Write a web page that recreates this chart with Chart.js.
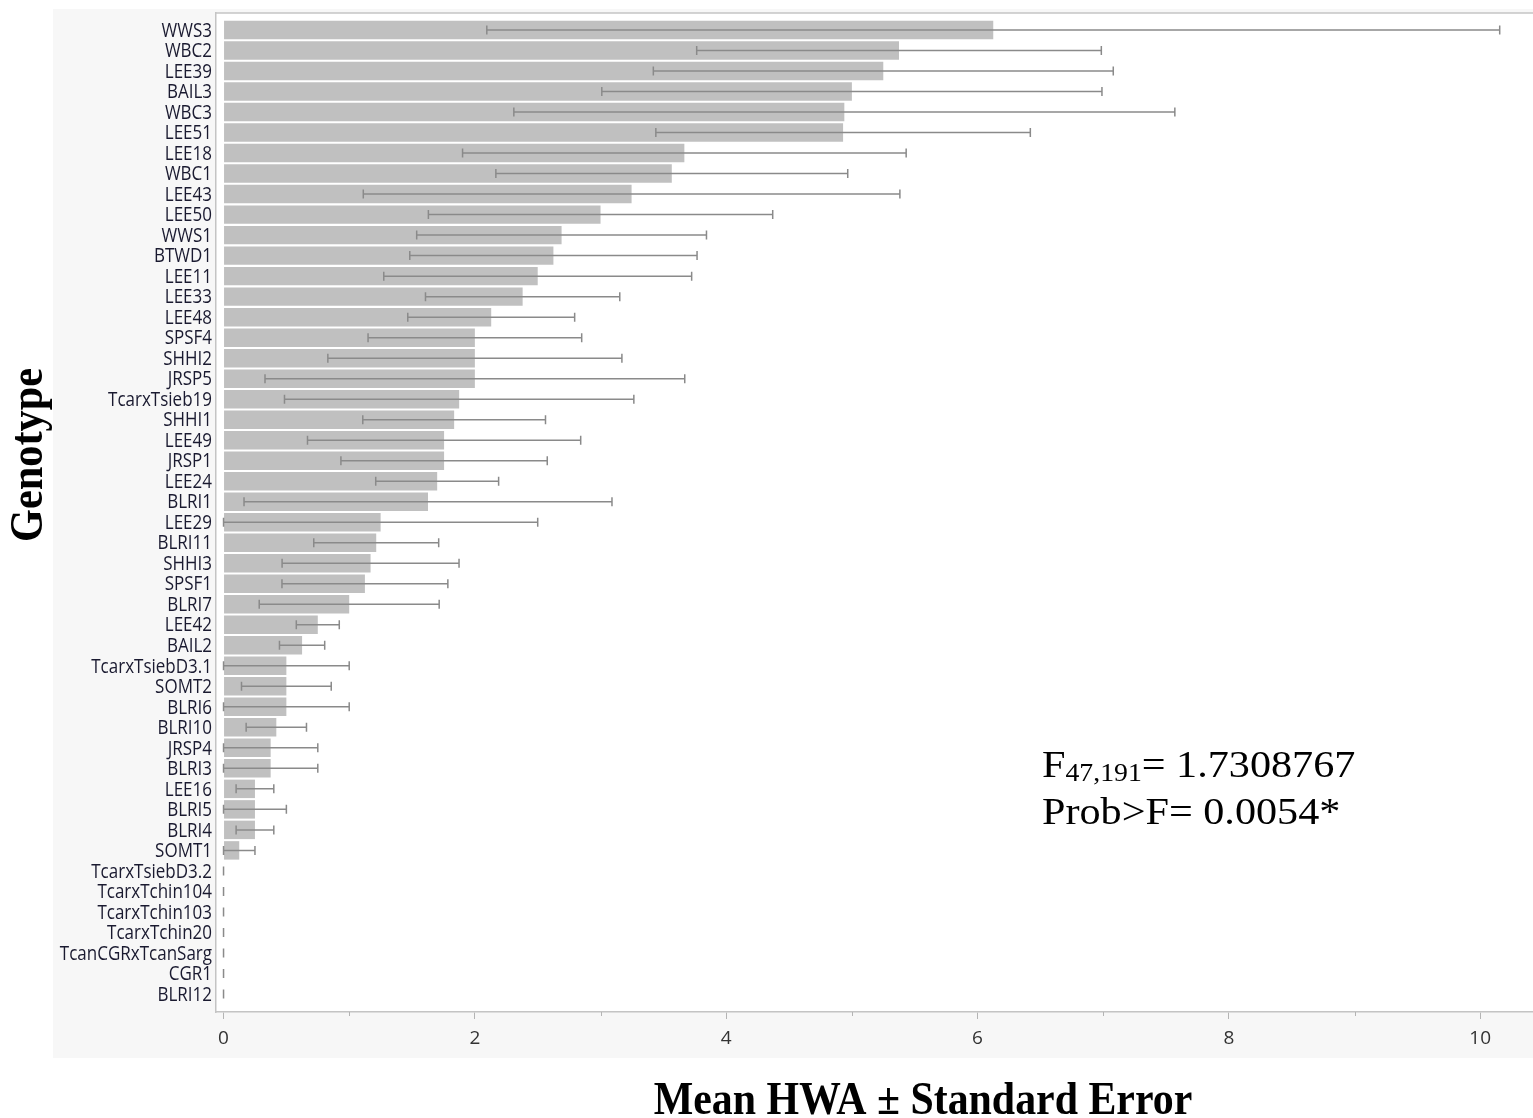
<!DOCTYPE html>
<html>
<head>
<meta charset="utf-8">
<title>Mean HWA by Genotype</title>
<script src="https://cdn.jsdelivr.net/npm/chart.js@4.4.1/dist/chart.umd.min.js"></script>
<style>
  html, body { margin: 0; padding: 0; background: #ffffff; }
  canvas { display: block; }
</style>
</head>
<body>
<canvas id="hwa" width="1533" height="1118"></canvas>
<script>
// Genotypes, ordered from highest to lowest mean HWA
const genotypes = [
  "WWS3", "WBC2", "LEE39", "BAIL3", "WBC3", "LEE51", "LEE18", "WBC1",
  "LEE43", "LEE50", "WWS1", "BTWD1", "LEE11", "LEE33", "LEE48", "SPSF4",
  "SHHI2", "JRSP5", "TcarxTsieb19", "SHHI1", "LEE49", "JRSP1", "LEE24", "BLRI1",
  "LEE29", "BLRI11", "SHHI3", "SPSF1", "BLRI7", "LEE42", "BAIL2", "TcarxTsiebD3.1",
  "SOMT2", "BLRI6", "BLRI10", "JRSP4", "BLRI3", "LEE16", "BLRI5", "BLRI4",
  "SOMT1", "TcarxTsiebD3.2", "TcarxTchin104", "TcarxTchin103", "TcarxTchin20",
  "TcanCGRxTcanSarg", "CGR1", "BLRI12"
];

// Mean HWA per genotype
const meanHWA = [
  6.125, 5.375, 5.25, 5.0, 4.94, 4.93, 3.667, 3.567,
  3.247, 3.0, 2.69, 2.625, 2.5, 2.38, 2.13, 2.0,
  2.0, 2.0, 1.875, 1.835, 1.755, 1.755, 1.7, 1.627,
  1.25, 1.215, 1.17, 1.125, 1.0, 0.75, 0.625, 0.5,
  0.5, 0.5, 0.42, 0.375, 0.375, 0.25, 0.25, 0.25,
  0.125, 0, 0, 0, 0, 0, 0, 0
];

// Standard error of the mean per genotype
const stdError = [
  4.03, 1.61, 1.83, 1.99, 2.63, 1.49, 1.765, 1.40,
  2.135, 1.37, 1.153, 1.143, 1.225, 0.773, 0.664, 0.85,
  1.17, 1.67, 1.39, 0.727, 1.087, 0.821, 0.489, 1.464,
  1.25, 0.497, 0.704, 0.66, 0.716, 0.171, 0.18, 0.5,
  0.357, 0.5, 0.24, 0.375, 0.375, 0.15, 0.25, 0.15,
  0.125, 0, 0, 0, 0, 0, 0, 0
];

// Value axis ticks
const majorTicks = [0, 2, 4, 6, 8, 10];
const minorTicks = [1, 3, 5, 7, 9];

// ANOVA summary
const statF = { df: "47,191", value: "1.7308767" };
const statP = "0.0054*";

const xTitle = "Mean HWA \u00B1 Standard Error";
const yTitle = "Genotype";

const FRAME = "#c4c4c4";
const LABEL_FAMILY = '"Open Sans", "Noto Sans", sans-serif';
const SERIF = '"Liberation Serif", "Times New Roman", serif';

const barPoints = meanHWA.map((m, i) => ({ x: m, y: i }));

// Panel background, white plot area and its top edge
const panelPlugin = {
  id: "panel",
  beforeDraw(chart) {
    const { ctx, chartArea: a, width } = chart;
    ctx.save();
    ctx.fillStyle = "#ffffff";
    ctx.fillRect(0, 0, width, chart.height);
    ctx.fillStyle = "#f7f7f7";
    ctx.fillRect(53, 9, width - 53, 1049);
    ctx.fillStyle = "#ffffff";
    ctx.fillRect(a.left, a.top, width - a.left, a.bottom - a.top);
    ctx.strokeStyle = FRAME;
    ctx.lineWidth = 1.5;
    ctx.beginPath();
    ctx.moveTo(a.left, a.top);
    ctx.lineTo(width, a.top);
    ctx.stroke();
    ctx.restore();
  }
};

// Genotype labels: condensed sans text, right-aligned at each row of the y scale
const genotypeLabelPlugin = {
  id: "genotypeLabels",
  afterDraw(chart) {
    const { ctx } = chart;
    const ys = chart.scales.y;
    const right = chart.chartArea.left - 4;
    ctx.save();
    ctx.fillStyle = "#1a1a30";
    ctx.font = "20px " + LABEL_FAMILY;
    ctx.textAlign = "right";
    ctx.textBaseline = "middle";
    ys.ticks.forEach(t => {
      const y = ys.getPixelForValue(t.value);
      ctx.save();
      ctx.translate(right, y + 1);
      ctx.scale(0.85, 1);
      ctx.fillText(genotypes[t.value], 0, 0);
      ctx.restore();
    });
    ctx.restore();
  }
};

// Error bars (mean ± SE) and short minor ticks on the value axis
const errorBarPlugin = {
  id: "errorBars",
  afterDatasetsDraw(chart) {
    const { ctx } = chart;
    const xs = chart.scales.x, ys = chart.scales.y;
    ctx.save();
    ctx.strokeStyle = "#8a8a8a";
    ctx.lineWidth = 1.5;
    const cap = 4.5;
    meanHWA.forEach((m, i) => {
      const y = ys.getPixelForValue(i);
      const lo = xs.getPixelForValue(Math.max(0, m - stdError[i]));
      const hi = xs.getPixelForValue(m + stdError[i]);
      ctx.beginPath();
      ctx.moveTo(lo, y); ctx.lineTo(hi, y);
      ctx.moveTo(lo, y - cap); ctx.lineTo(lo, y + cap);
      ctx.moveTo(hi, y - cap); ctx.lineTo(hi, y + cap);
      ctx.stroke();
    });
    ctx.strokeStyle = "#b4b4b4";
    ctx.lineWidth = 1;
    const b = chart.chartArea.bottom;
    minorTicks.forEach(v => {
      const x = Math.round(xs.getPixelForValue(v)) + 0.5;
      ctx.beginPath();
      ctx.moveTo(x, b); ctx.lineTo(x, b + 4);
      ctx.stroke();
    });
    ctx.restore();
  }
};

// Axis titles and the ANOVA annotation
const textPlugin = {
  id: "texts",
  afterDraw(chart) {
    const { ctx } = chart;
    ctx.save();
    ctx.fillStyle = "#000000";
    ctx.textBaseline = "alphabetic";

    ctx.font = "bold 46px " + SERIF;
    ctx.textAlign = "center";
    ctx.save();
    ctx.translate(923, 1114);
    ctx.scale(0.91, 1);
    ctx.fillText(xTitle, 0, 0);
    ctx.restore();

    ctx.save();
    ctx.translate(42, 455);
    ctx.rotate(-Math.PI / 2);
    ctx.scale(0.92, 1);
    ctx.fillText(yTitle, 0, 0);
    ctx.restore();

    ctx.textAlign = "left";
    ctx.save();
    ctx.translate(1042, 777);
    ctx.scale(1.11, 1);
    ctx.font = "38px " + SERIF;
    ctx.fillText("F", 0, 0);
    let x = ctx.measureText("F").width;
    ctx.font = "25px " + SERIF;
    ctx.fillText(statF.df, x, 4);
    x += ctx.measureText(statF.df).width;
    ctx.font = "38px " + SERIF;
    ctx.fillText("= " + statF.value, x, 0);
    ctx.fillText("Prob>F= " + statP, 0, 47);
    ctx.restore();

    ctx.restore();
  }
};

function draw() {
  new Chart(document.getElementById("hwa"), {
    type: "bar",
    data: {
      datasets: [{
        data: barPoints,
        backgroundColor: "#c0c0c0",
        borderWidth: 0,
        barPercentage: 0.9,
        categoryPercentage: 1.0
      }]
    },
    options: {
      indexAxis: "y",
      responsive: false,
      animation: false,
      devicePixelRatio: 1,
      layout: { padding: { top: 13, right: 0, bottom: 60, left: 0 } },
      plugins: { legend: { display: false }, tooltip: { enabled: false } },
      scales: {
        x: {
          type: "linear",
          position: "bottom",
          min: -0.06,
          max: 10.42,
          afterBuildTicks(scale) {
            scale.ticks = majorTicks.map(v => ({ value: v }));
          },
          afterFit(scale) { scale.height = 46; },
          grid: {
            display: true,
            drawOnChartArea: false,
            drawTicks: true,
            tickLength: 7,
            tickColor: "#b4b4b4",
            tickWidth: 1
          },
          border: { display: true, color: FRAME, width: 1.5 },
          ticks: {
            autoSkip: false,
            maxRotation: 0,
            padding: 8,
            color: "#333333",
            font: { family: LABEL_FAMILY, size: 19 }
          }
        },
        y: {
          type: "linear",
          offset: false,
          reverse: true,
          min: -0.83,
          max: 47.88,
          afterBuildTicks(scale) {
            scale.ticks = genotypes.map((g, i) => ({ value: i }));
          },
          afterFit(scale) { scale.width = 216; },
          grid: { display: false, drawTicks: false },
          border: { display: true, color: FRAME, width: 1.5 },
          ticks: { display: false, autoSkip: false }
        }
      }
    },
    plugins: [panelPlugin, errorBarPlugin, genotypeLabelPlugin, textPlugin]
  });
}

const fontLoads = [
  '20px "Open Sans"',
  'bold 46px "Liberation Serif"',
  '38px "Liberation Serif"'
].map(f => document.fonts.load(f).catch(() => null));
Promise.all(fontLoads).then(draw, draw);
</script>
</body>
</html>
